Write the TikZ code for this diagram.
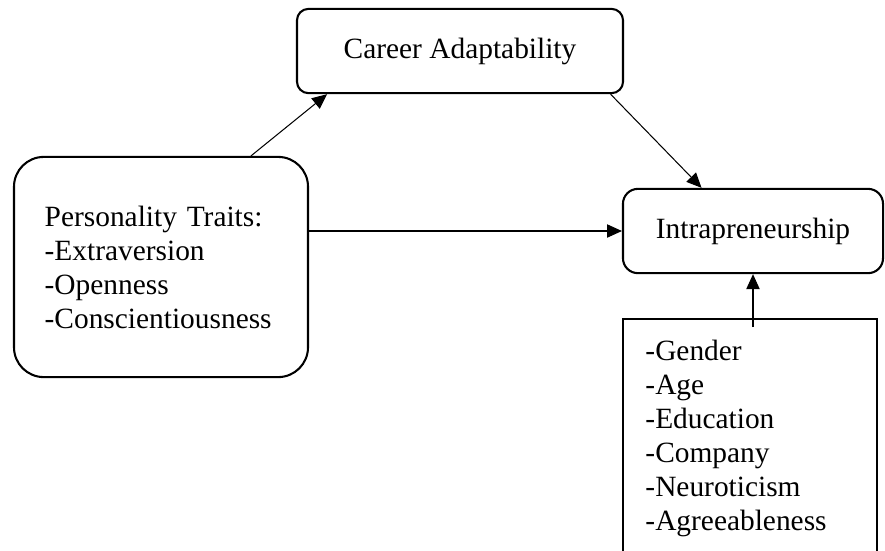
\documentclass[tikz,border=0pt]{standalone}
\usepackage{fontspec}
\setmainfont{Liberation Serif}
\usetikzlibrary{arrows.meta,positioning}

\begin{document}
\begin{tikzpicture}[
			x=0.0153cm, y=-0.0153cm,
			>={Triangle[length=6.5pt,width=5.8pt]},
			boxline/.style={draw, line width=0.9pt},
			factor/.style={boxline, align=center, font={\fontsize{12.8}{14.8}\selectfont}},
			listing/.style={align=left, inner sep=0pt, font={\fontsize{12.8}{14.8}\selectfont}},
			link/.style={->, line width=0.45pt}
	]
	\clip (0,0) rectangle (885,550);

	% the three factors
	\node[factor, rounded corners=5pt, minimum width=4.99cm, minimum height=1.29cm]
		(adapt) at (460,51) {Career Adaptability};
	\node[factor, rounded corners=13pt, minimum width=4.50cm, minimum height=3.37cm,
		text width=3.56cm, align=left, inner xsep=0.47cm]
		(traits) at (161,267) {Personality Traits:\\-Extraversion\\-Openness\\-Conscientiousness};
	\node[factor, rounded corners=6.5pt, minimum width=3.98cm, minimum height=1.29cm]
		(intra) at (753,231) {Intrapreneurship};

	% controls, box runs off the page
	\draw[boxline] (623,319) rectangle (877,620);
	\node[listing, anchor=north west] (ctrl) at (645,340)
		{-Gender\\-Age\\-Education\\-Company\\-Neuroticism\\-Agreeableness};
	\coordinate (ctrltop) at (754,327);

	\draw[link] (traits.51) -- (adapt.198);
	\draw[link] (adapt.-16) -- (intra.140);
	\draw[link] (traits.east |- intra.west) -- (intra.west);
	\draw[link] (intra.south |- ctrltop) -- (intra.south);
\end{tikzpicture}
\end{document}
